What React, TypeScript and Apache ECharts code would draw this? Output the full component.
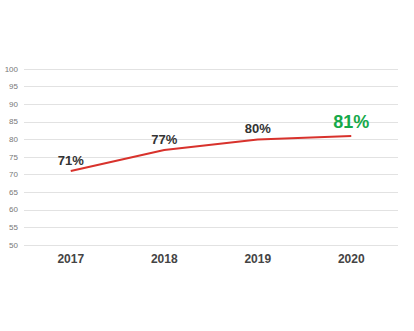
import React, { useEffect, useRef } from "react";
import * as echarts from "echarts";

const years = ["2017", "2018", "2019", "2020"];
const values = [71, 77, 80, 81];
const labelText = ["71%", "77%", "80%", "81%"];

export default function App() {
  const ref = useRef<HTMLDivElement>(null);
  useEffect(() => {
    const chart = echarts.init(ref.current!, null, { renderer: "svg" });
    chart.setOption({
      animation: false,
      backgroundColor: "#ffffff",
      grid: { left: 24, right: 16, top: 69, bottom: 86 },
      xAxis: {
        type: "category",
        data: years,
        boundaryGap: true,
        axisLine: { show: false },
        axisTick: { show: false },
        axisLabel: {
          color: "#444",
          fontFamily: "Arial, Liberation Sans, sans-serif",
          fontWeight: "bold",
          fontSize: 12,
          margin: 8,
        },
      },
      yAxis: {
        type: "value",
        min: 50,
        max: 100,
        interval: 5,
        axisLine: { show: false },
        axisTick: { show: false },
        axisLabel: {
          color: "#777",
          fontFamily: "Arial, Liberation Sans, sans-serif",
          fontSize: 8,
          margin: 6,
        },
        splitLine: { lineStyle: { color: "#e2e2e2", width: 1 } },
      },
      series: [
        {
          type: "line",
          data: values,
          symbol: "none",
          lineStyle: { color: "#d8322c", width: 2 },
        },
        {
          type: "scatter",
          data: values.map((v, i) => ({
            value: v,
            label:
              i === values.length - 1
                ? { color: "#16a94a", fontSize: 18, fontWeight: "bold", distance: 4 }
                : { color: "#333", fontSize: 13, fontWeight: "bold", distance: 3 },
          })),
          symbolSize: 2,
          itemStyle: { color: "rgba(0,0,0,0)", opacity: 1 },
          label: {
            show: true,
            opacity: 1,
            position: "top",
            fontFamily: "Arial, Liberation Sans, sans-serif",
            formatter: (p: any) => labelText[p.dataIndex],
          },
        },
      ],
    });
    return () => chart.dispose();
  }, []);
  return <div ref={ref} style={{ width: 414, height: 331, position: "absolute", left: 0, top: 0 }} />;
}
